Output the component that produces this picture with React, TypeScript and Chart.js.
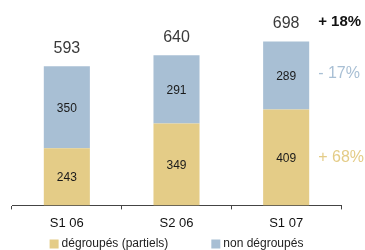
import React, { useEffect, useRef } from "react";
import { Chart, registerables } from "chart.js";

Chart.register(...registerables);

const categories = ["S1 06", "S2 06", "S1 07"];
const degroupes = [243, 349, 409];
const nonDegroupes = [350, 291, 289];
const seriesNames = ["dégroupés (partiels)", "non dégroupés"];
const growthLabels = ["+ 68%", "- 17%"];
const totalGrowthLabel = "+ 18%";

const YELLOW = "#e4cc87";
const BLUE = "#a8bfd4";
const FONT = "'Liberation Sans', Arial, Helvetica, sans-serif";

const labelsPlugin = {
  id: "customLabels",
  afterDatasetsDraw(chart: any) {
    const ctx = chart.ctx;
    const y = chart.scales.y;
    const m0 = chart.getDatasetMeta(0);
    const m1 = chart.getDatasetMeta(1);
    ctx.save();
    ctx.textAlign = "center";
    ctx.textBaseline = "middle";
    // inner labels
    [m0, m1].forEach((meta: any, di: number) => {
      const data = chart.data.datasets[di].data;
      meta.data.forEach((bar: any, i: number) => {
        const cy = (bar.y + bar.base) / 2;
        ctx.fillStyle = "#1a1a1a";
        ctx.font = `12px ${FONT}`;
        ctx.fillText(String(data[i]), bar.x, cy + 1);
      });
    });
    // totals
    m1.data.forEach((bar: any, i: number) => {
      const total = degroupes[i] + nonDegroupes[i];
      ctx.fillStyle = "#3a3a3a";
      ctx.font = `16px ${FONT}`;
      ctx.fillText(String(total), bar.x, y.getPixelForValue(total) - 18);
    });
    // growth annotations
    const last = categories.length - 1;
    const b0 = m0.data[last];
    const b1 = m1.data[last];
    const ax = b1.x + b1.width / 2 + 9;
    ctx.textAlign = "left";
    const tot = degroupes[last] + nonDegroupes[last];
    ctx.font = `bold 15px ${FONT}`;
    ctx.fillStyle = "#111";
    ctx.fillText(totalGrowthLabel, ax, y.getPixelForValue(tot) - 20);
    ctx.font = `16px ${FONT}`;
    ctx.fillStyle = BLUE;
    ctx.fillText(growthLabels[1], ax, (b1.y + b1.base) / 2 - 2);
    ctx.fillStyle = YELLOW;
    ctx.fillText(growthLabels[0], ax, (b0.y + b0.base) / 2);

    // legend
    const area = chart.chartArea;
    ctx.font = `12px ${FONT}`;
    const w1 = ctx.measureText(seriesNames[0]).width;
    const w2 = ctx.measureText(seriesNames[1]).width;
    const box = 9;
    const gapText = 3;
    const gapItems = 43;
    const totalW = box + gapText + w1 + gapItems + box + gapText + w2;
    let x = (area.left + area.right) / 2 - totalW / 2;
    const ly = 244;
    const colors = [YELLOW, BLUE];
    [w1, w2].forEach((w, i) => {
      ctx.fillStyle = colors[i];
      ctx.fillRect(x, ly - box / 2, box, box);
      ctx.fillStyle = "#222";
      ctx.textAlign = "left";
      ctx.fillText(seriesNames[i], x + box + gapText, ly);
      x += box + gapText + w + gapItems;
    });
    ctx.restore();
  },
};

export default function App() {
  const ref = useRef<HTMLCanvasElement>(null);
  useEffect(() => {
    if (!ref.current) return;
    const chart = new Chart(ref.current, {
      type: "bar",
      data: {
        labels: categories,
        datasets: [
          { label: seriesNames[0], data: degroupes, backgroundColor: YELLOW },
          { label: seriesNames[1], data: nonDegroupes, backgroundColor: BLUE },
        ],
      },
      options: {
        animation: false,
        responsive: false,
        devicePixelRatio: 1,
        layout: { padding: { left: 12, right: 24, top: 0, bottom: 13 } },
        plugins: { legend: { display: false }, tooltip: { enabled: false } },
        datasets: { bar: { categoryPercentage: 1, barPercentage: 0.42 } },
        scales: {
          x: {
            stacked: true,
            offset: true,
            grid: {
              offset: true,
              drawOnChartArea: false,
              drawTicks: true,
              tickLength: 4,
              color: "#444",
            },
            border: { display: true, color: "#444", width: 1 },
            ticks: { color: "#111", font: { size: 13, family: FONT }, padding: 6 },
          },
          y: { stacked: true, display: false, min: 0, max: 875 },
        },
      },
      plugins: [labelsPlugin],
    });
    return () => chart.destroy();
  }, []);
  return (
    <div style={{ position: "absolute", left: 0, top: 0, width: 365, height: 250, background: "#fff" }}>
      <canvas ref={ref} width={365} height={250} style={{ width: 365, height: 250, display: "block" }} />
    </div>
  );
}
